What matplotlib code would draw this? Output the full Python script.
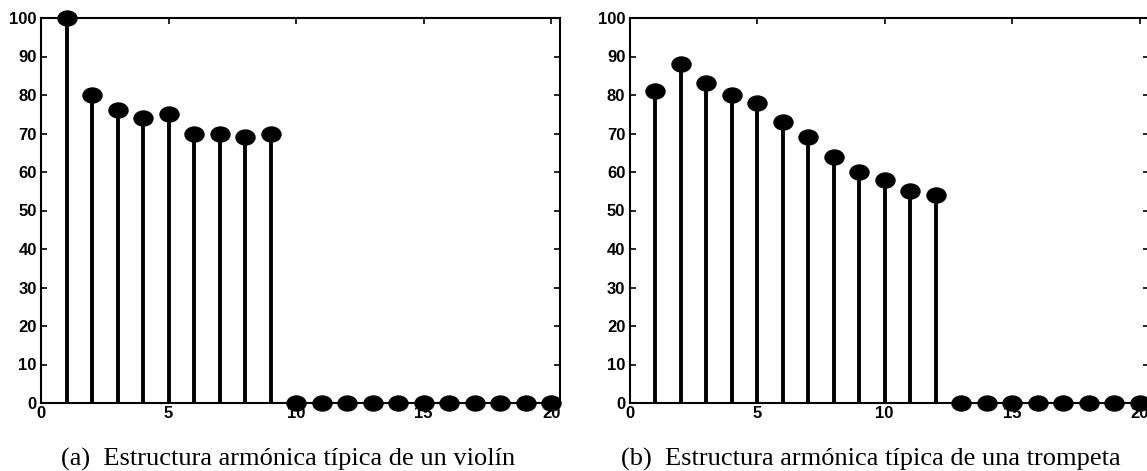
import numpy as np
import matplotlib
matplotlib.use("Agg")
import matplotlib.pyplot as plt
from matplotlib.path import Path
from matplotlib.transforms import Affine2D

# Harmonic amplitudes (percent of the strongest partial)
harmonics = list(range(1, 21))
violin = [100, 80, 76, 74, 75, 70, 70, 69, 70,
          0, 0, 0, 0, 0, 0, 0, 0, 0, 0, 0]
trumpet = [81, 88, 83, 80, 78, 73, 69, 64, 60, 58, 55, 54,
           0, 0, 0, 0, 0, 0, 0, 0]

x_ticks = [0, 5, 10, 15, 20]
y_ticks = [0, 10, 20, 30, 40, 50, 60, 70, 80, 90, 100]

captions = ["(a)  Estructura armónica típica de un violín",
            "(b)  Estructura armónica típica de una trompeta"]

W, H = 1147, 471
fig = plt.figure(figsize=(W / 100, H / 100), dpi=100)

# slightly flattened disc used as the stem head
ellipse = Path.unit_circle().transformed(Affine2D().scale(1.27, 1.0))

tick_font = dict(family="Liberation Sans", weight="bold", size=12)


def stem_panel(rect, values):
    ax = fig.add_axes(rect)
    ax.vlines(harmonics, 0, values, colors="black", linewidth=2.8, zorder=3)
    ax.plot(harmonics, values, linestyle="none", marker=ellipse,
            markersize=13.7, color="black", clip_on=False, zorder=4)
    ax.set_xlim(0, 20.35)
    ax.set_ylim(0, 100)
    ax.set_xticks(x_ticks)
    ax.set_yticks(y_ticks)
    ax.set_xticklabels([str(t) for t in x_ticks], fontdict=tick_font)
    ax.set_yticklabels([str(t) for t in y_ticks], fontdict=tick_font)
    ax.tick_params(direction="in", length=4, width=1.2, top=True, right=True,
                   colors="black")
    ax.tick_params(axis="x", pad=2)
    ax.tick_params(axis="y", pad=3)
    for s in ax.spines.values():
        s.set_linewidth(1.5)
    return ax


bottom = (H - 403) / H
height = 385 / H
width = 519 / W
stem_panel([41 / W, bottom, width, height], violin)
stem_panel([629.5 / W, bottom, width, height], trumpet)

cap_font = dict(family="Liberation Serif", size=19)
cap_y = 1 - 466 / H
fig.text(61 / W, cap_y, captions[0], ha="left", va="baseline", **cap_font)
fig.text(1121 / W, cap_y, captions[1], ha="right", va="baseline", **cap_font)

fig.savefig("out.png", dpi=100)
